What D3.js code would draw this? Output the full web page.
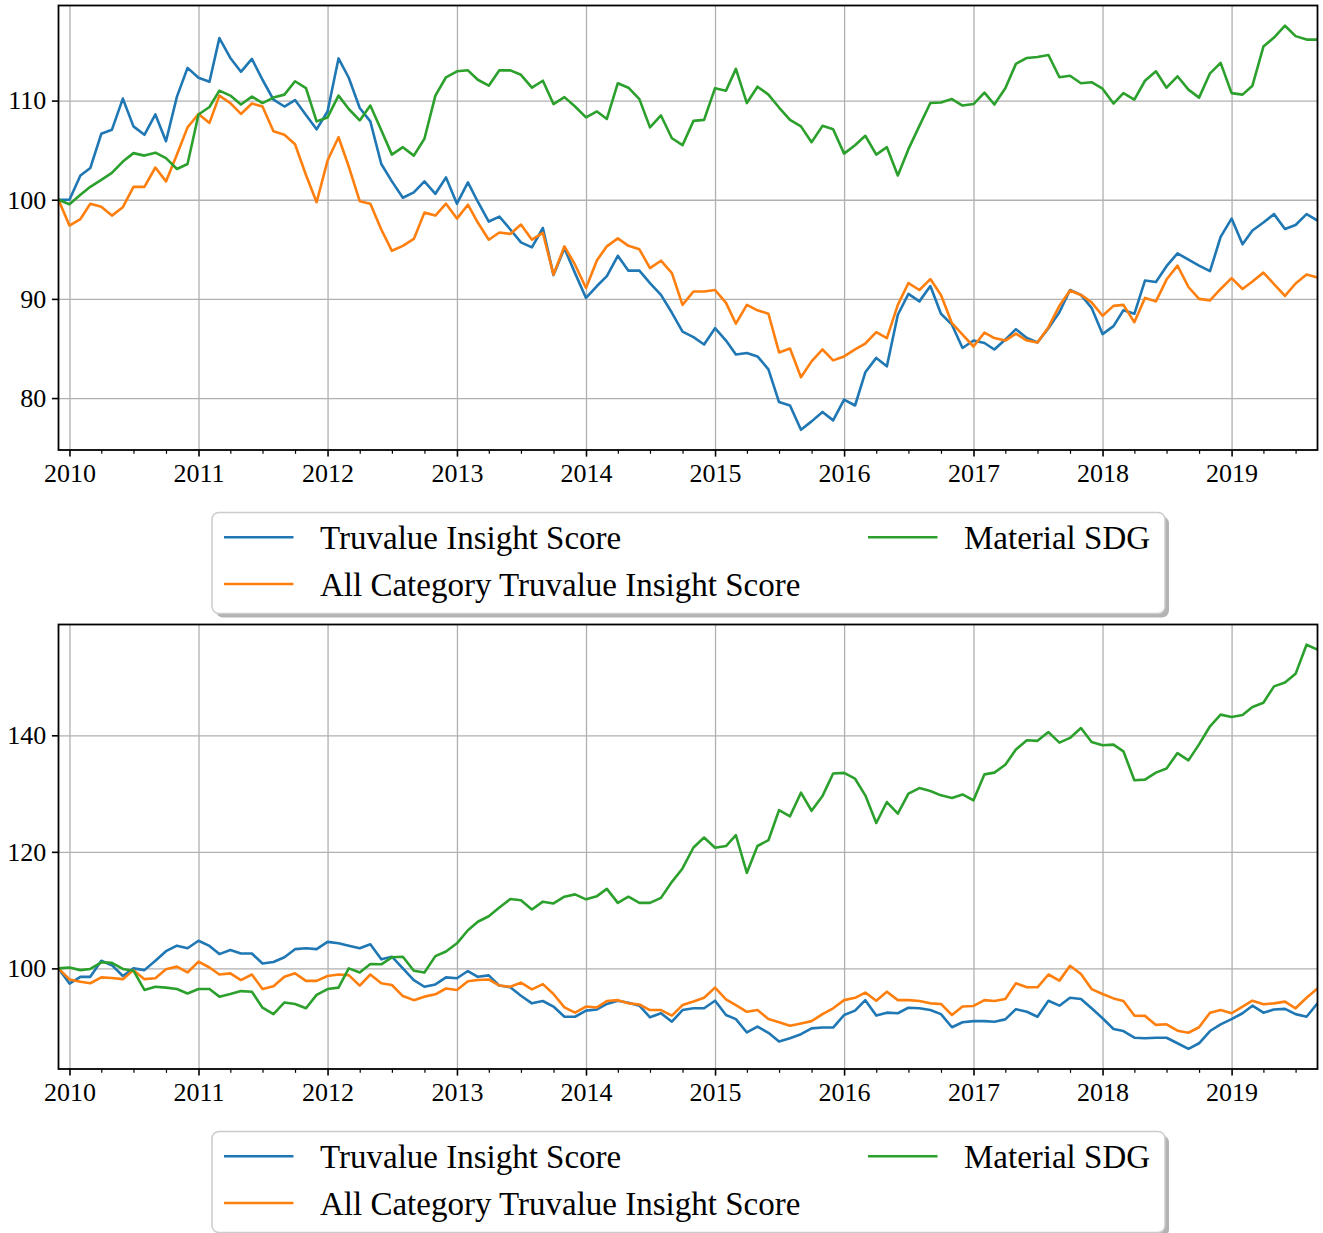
<!DOCTYPE html>
<html>
<head>
<meta charset="utf-8">
<script src="https://cdn.jsdelivr.net/npm/d3@7"></script>
<style>
  body { margin: 0; background: #fff; }
  svg text { font-family: "Liberation Serif", "Times New Roman", serif; fill: #000; }
</style>
</head>
<body>
<div id="chart"></div>
<script>
// monthly observations, Dec 2009 .. Sep 2019
const firstMonth = new Date(Date.UTC(2009, 11, 1));
const lastMonth = new Date(Date.UTC(2019, 8, 1));
const months = d3.utcMonth.range(firstMonth, d3.utcMonth.offset(lastMonth, 1));
const tickYears = [2010, 2011, 2012, 2013, 2014, 2015, 2016, 2017, 2018, 2019];

const seriesNames = ["Truvalue Insight Score", "All Category Truvalue Insight Score", "Material SDG"];
const seriesColors = ["#1f77b4", "#ff7f0e", "#2ca02c"];

const topTruvalue = [
  100, 100.0, 102.45, 103.2, 106.65, 107.05, 110.2, 107.4, 106.55, 108.6,
  105.9, 110.4, 113.3, 112.3, 111.9, 116.3, 114.3, 112.9, 114.2, 112.1,
  110.1, 109.4, 110.05, 108.55, 107.1, 108.9, 114.25, 112.3, 109.25, 107.9,
  103.6, 101.85, 100.2, 100.75, 101.85, 100.6, 102.25, 99.6, 101.75, 99.8,
  97.8, 98.3, 97.0, 95.7, 95.2, 97.15, 92.4, 95.1, 92.6, 90.1,
  91.3, 92.3, 94.35, 92.85, 92.85, 91.6, 90.4, 88.6, 86.7, 86.15,
  85.4, 87.05, 85.8, 84.4, 84.55, 84.2, 82.9, 79.6, 79.25, 76.8,
  77.65, 78.6, 77.75, 79.85, 79.25, 82.6, 84.05, 83.2, 88.4, 90.5,
  89.75, 91.3, 88.5, 87.4, 85.05, 85.8, 85.55, 84.9, 85.9, 86.95,
  86.05, 85.6, 87.05, 88.65, 90.9, 90.4, 89.1, 86.45, 87.25, 88.85,
  88.5, 91.85, 91.7, 93.3, 94.6, 93.95, 93.35, 92.8, 96.25, 98.1,
  95.5, 96.9, 97.7, 98.55, 97.05, 97.45, 98.55, 97.9
];
const topAllCategory = [
  100, 97.4, 98.05, 99.6, 99.3, 98.4, 99.25, 101.3, 101.3, 103.25,
  101.85, 104.55, 107.3, 108.65, 107.75, 110.5, 109.75, 108.65, 109.7, 109.4,
  106.9, 106.55, 105.6, 102.5, 99.75, 103.95, 106.3, 103.35, 99.85, 99.6,
  97.0, 94.85, 95.35, 96.05, 98.7, 98.4, 99.6, 98.1, 99.5, 97.7,
  95.97, 96.7, 96.55, 97.5, 95.97, 96.65, 92.45, 95.3, 93.45, 91.1,
  93.9, 95.3, 96.1, 95.35, 95.0, 93.1, 93.85, 92.6, 89.4, 90.75,
  90.75, 90.9, 89.6, 87.5, 89.4, 88.85, 88.5, 84.6, 85.0, 82.1,
  83.7, 84.9, 83.8, 84.2, 84.9, 85.5, 86.65, 86.05, 89.4, 91.6,
  90.9, 92.0, 90.4, 87.55, 86.4, 85.2, 86.6, 86.05, 85.8, 86.5,
  85.8, 85.6, 87.15, 89.3, 90.85, 90.4, 89.65, 88.3, 89.3, 89.4,
  87.65, 90.1, 89.75, 91.95, 93.35, 91.2, 90.0, 89.85, 91.0, 92.1,
  91.0, 91.75, 92.65, 91.5, 90.3, 91.55, 92.45, 92.15
];
const topMaterialSdg = [
  100, 99.55, 100.5, 101.3, 102.0, 102.7, 103.85, 104.7, 104.45, 104.75,
  104.2, 103.1, 103.6, 108.6, 109.35, 111.0, 110.5, 109.6, 110.4, 109.75,
  110.3, 110.6, 111.95, 111.25, 107.9, 108.3, 110.5, 109.15, 108.0, 109.5,
  107.0, 104.55, 105.3, 104.45, 106.15, 110.5, 112.35, 112.95, 113.05, 112.1,
  111.5, 113.05, 113.05, 112.6, 111.3, 112.0, 109.65, 110.35, 109.4, 108.3,
  108.9, 108.15, 111.75, 111.3, 110.15, 107.3, 108.5, 106.2, 105.5, 107.95,
  108.05, 111.25, 111.0, 113.2, 109.75, 111.4, 110.6, 109.3, 108.05, 107.4,
  105.8, 107.45, 107.1, 104.65, 105.5, 106.45, 104.55, 105.3, 102.45, 105.1,
  107.45, 109.75, 109.8, 110.15, 109.5, 109.65, 110.8, 109.6, 111.25, 113.7,
  114.3, 114.4, 114.6, 112.35, 112.5, 111.75, 111.85, 111.2, 109.7, 110.75,
  110.1, 112.0, 112.95, 111.3, 112.45, 111.1, 110.3, 112.75, 113.8, 110.75,
  110.6, 111.5, 115.45, 116.35, 117.55, 116.5, 116.15, 116.15
];

const bottomTruvalue = [
  100, 97.4, 98.55, 98.55, 101.3, 100.55, 98.7, 100.0, 99.7, 101.3,
  102.95, 103.9, 103.45, 104.75, 103.85, 102.45, 103.15, 102.55, 102.55, 100.85,
  101.1, 101.9, 103.3, 103.45, 103.3, 104.55, 104.3, 103.9, 103.45, 104.15,
  101.55, 102.0, 100.0, 98.0, 96.85, 97.25, 98.45, 98.3, 99.55, 98.55,
  98.8, 97.05, 96.75, 95.3, 94.0, 94.4, 93.45, 91.7, 91.7, 92.75,
  92.95, 93.9, 94.45, 94.1, 93.6, 91.6, 92.3, 90.85, 92.85, 93.15,
  93.15, 94.45, 92.0, 91.3, 89.0, 90.0, 88.95, 87.45, 88.0, 88.7,
  89.7, 89.85, 89.85, 92.0, 92.75, 94.55, 91.9, 92.4, 92.3, 93.25,
  93.15, 92.85, 92.15, 89.9, 90.75, 90.95, 90.95, 90.85, 91.25, 93.0,
  92.55, 91.7, 94.45, 93.6, 94.95, 94.75, 93.15, 91.45, 89.6, 89.25,
  88.1, 88.0, 88.1, 88.1, 87.15, 86.2, 87.15, 89.25, 90.4, 91.3,
  92.3, 93.6, 92.4, 92.95, 93.05, 92.15, 91.7, 94.0
];
const bottomAllCategory = [
  100, 98.1, 97.7, 97.45, 98.45, 98.35, 98.15, 99.7, 98.15, 98.3,
  99.85, 100.3, 99.3, 101.15, 100.15, 98.95, 99.15, 98.0, 98.95, 96.45,
  96.95, 98.55, 99.15, 97.85, 97.85, 98.7, 98.95, 98.85, 97.05, 98.95,
  97.45, 97.15, 95.25, 94.55, 95.15, 95.55, 96.55, 96.3, 97.8, 98.0,
  98.1, 97.05, 96.85, 97.55, 96.4, 97.3, 95.6, 93.3, 92.4, 93.45,
  93.3, 94.4, 94.55, 94.0, 93.8, 92.85, 92.85, 91.9, 93.7, 94.3,
  94.95, 96.7, 94.7, 93.7, 92.55, 92.85, 91.3, 90.75, 90.15, 90.55,
  90.95, 92.15, 93.15, 94.55, 94.95, 95.85, 94.45, 96.0, 94.55, 94.55,
  94.4, 94.0, 93.9, 92.0, 93.45, 93.55, 94.55, 94.4, 94.75, 97.45,
  96.75, 96.75, 98.95, 97.9, 100.45, 99.05, 96.45, 95.6, 94.85, 94.4,
  91.9, 91.85, 90.3, 90.4, 89.3, 88.95, 89.9, 92.4, 92.85, 92.3,
  93.45, 94.45, 93.85, 94.0, 94.3, 93.15, 94.95, 96.55
];
const bottomMaterialSdg = [
  100, 100.15, 99.7, 99.9, 101.05, 100.95, 99.9, 99.6, 96.3, 96.85,
  96.7, 96.45, 95.7, 96.45, 96.45, 95.15, 95.6, 96.1, 96.0, 93.25,
  92.15, 94.15, 93.9, 93.15, 95.45, 96.45, 96.7, 100.0, 99.3, 100.75,
  100.7, 101.9, 102.0, 99.6, 99.3, 102.1, 102.9, 104.3, 106.55, 108.0,
  108.95, 110.45, 111.9, 111.7, 110.1, 111.45, 111.15, 112.3, 112.7, 111.85,
  112.4, 113.65, 111.25, 112.3, 111.25, 111.25, 112.1, 114.85, 117.15, 120.75,
  122.45, 120.7, 121.0, 122.85, 116.4, 121.0, 122.0, 127.15, 126.1, 130.15,
  127.05, 129.6, 133.45, 133.55, 132.55, 129.7, 124.95, 128.55, 126.55, 130.0,
  130.95, 130.45, 129.7, 129.25, 129.85, 128.85, 133.3, 133.6, 134.95, 137.55,
  139.15, 139.05, 140.55, 138.75, 139.55, 141.25, 138.85, 138.3, 138.4, 137.25,
  132.3, 132.4, 133.6, 134.3, 136.95, 135.7, 138.45, 141.55, 143.55, 143.15,
  143.5, 144.85, 145.6, 148.4, 149.05, 150.55, 155.55, 154.7
];

const topYTicks = [80, 90, 100, 110];
const bottomYTicks = [100, 120, 140];

const width = 1323, height = 1233;
const left = 58.5, right = 1317.5, plotH = 444.5;
const serif = '"Liberation Serif", "Times New Roman", serif';

const svg = d3.select("#chart").append("svg")
  .attr("width", width)
  .attr("height", height)
  .attr("font-family", serif);

const x = d3.scaleUtc()
  .domain([firstMonth, lastMonth])
  .range([left, right]);

const yearDates = tickYears.map(yr => new Date(Date.UTC(yr, 0, 1)));
const minorDates = d3.utcMonth.every(3).range(firstMonth, lastMonth)
  .filter(d => d.getUTCMonth() !== 0);

function styleAxis(a, fontSize) {
  a.attr("font-family", serif).attr("font-size", fontSize);
  a.select(".domain").remove();
  a.selectAll("line").attr("stroke", "#000").attr("stroke-width", 1.6);
  a.selectAll("text").attr("font-family", serif).attr("font-size", fontSize);
}

function drawPanel(top, series, yTicks, id) {
  const g = svg.append("g");
  const bottom = top + plotH;

  // y range padded by 5% like matplotlib
  const all = series.flat();
  const [lo, hi] = d3.extent(all);
  const pad = (hi - lo) * 0.05;
  const y = d3.scaleLinear().domain([lo - pad, hi + pad]).range([bottom, top]);

  // grid
  g.append("g")
    .attr("transform", `translate(0,${bottom})`)
    .call(d3.axisBottom(x).tickValues(yearDates).tickSize(-plotH).tickFormat(""))
    .call(a => a.select(".domain").remove())
    .call(a => a.selectAll("line").attr("stroke", "#b0b0b0").attr("stroke-width", 1.3));
  g.append("g")
    .attr("transform", `translate(${left},0)`)
    .call(d3.axisLeft(y).tickValues(yTicks).tickSize(-(right - left)).tickFormat(""))
    .call(a => a.select(".domain").remove())
    .call(a => a.selectAll("line").attr("stroke", "#b0b0b0").attr("stroke-width", 1.3));

  g.append("clipPath").attr("id", id)
    .append("rect").attr("x", left).attr("y", top).attr("width", right - left).attr("height", plotH);

  const line = d3.line()
    .x((d, i) => x(months[i]))
    .y(d => y(d));

  g.append("g").attr("clip-path", `url(#${id})`)
    .selectAll("path")
    .data(series)
    .join("path")
    .attr("d", line)
    .attr("fill", "none")
    .attr("stroke", (d, i) => seriesColors[i])
    .attr("stroke-width", 2.6)
    .attr("stroke-linejoin", "round");

  // x axis, major years + quarterly minor ticks
  g.append("g")
    .attr("transform", `translate(0,${bottom})`)
    .call(d3.axisBottom(x).tickValues(yearDates).tickSize(6.6).tickPadding(6.9)
      .tickFormat(d3.utcFormat("%Y")))
    .call(a => styleAxis(a, 26));
  g.append("g")
    .attr("transform", `translate(0,${bottom})`)
    .call(d3.axisBottom(x).tickValues(minorDates).tickSize(3.8).tickFormat(""))
    .call(a => a.select(".domain").remove())
    .call(a => a.selectAll("line").attr("stroke", "#000").attr("stroke-width", 1.2));

  // y axis
  g.append("g")
    .attr("transform", `translate(${left},0)`)
    .call(d3.axisLeft(y).tickValues(yTicks).tickSize(6.6).tickPadding(5.7))
    .call(a => styleAxis(a, 26));

  // spines
  g.append("rect")
    .attr("x", left).attr("y", top)
    .attr("width", right - left).attr("height", plotH)
    .attr("fill", "none").attr("stroke", "#000").attr("stroke-width", 1.8);

  // legend below the axes, 2 columns, with shadow
  const lg = g.append("g").attr("transform", `translate(0,${bottom})`);
  const boxX = 212, boxY = 62.5, boxW = 953, boxH = 101;
  lg.append("rect")
    .attr("x", boxX + 4).attr("y", boxY + 4)
    .attr("width", boxW).attr("height", boxH)
    .attr("rx", 7).attr("fill", "#b3b3b3");
  lg.append("rect")
    .attr("x", boxX).attr("y", boxY)
    .attr("width", boxW).attr("height", boxH)
    .attr("rx", 7).attr("fill", "#fff")
    .attr("stroke", "#cccccc").attr("stroke-width", 1.5);

  const cols = [[0, 1], [2]];
  const colX = [224, 868];
  const rowY = [87.3, 134];
  cols.forEach((col, c) => {
    col.forEach((si, r) => {
      lg.append("line")
        .attr("x1", colX[c]).attr("x2", colX[c] + 69.5)
        .attr("y1", rowY[r]).attr("y2", rowY[r])
        .attr("stroke", seriesColors[si]).attr("stroke-width", 2.6);
      lg.append("text")
        .attr("x", colX[c] + 96)
        .attr("y", rowY[r] + 12)
        .attr("font-size", 33)
        .text(seriesNames[si]);
    });
  });
}

drawPanel(5.5, [topTruvalue, topAllCategory, topMaterialSdg], topYTicks, "clipTop");
drawPanel(624.5, [bottomTruvalue, bottomAllCategory, bottomMaterialSdg], bottomYTicks, "clipBottom");
</script>
</body>
</html>
